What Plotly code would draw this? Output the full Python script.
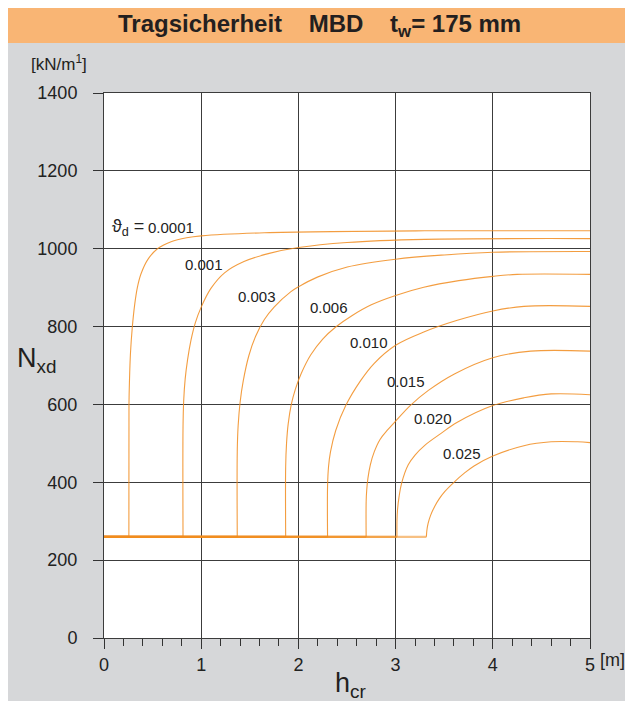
import plotly.graph_objects as go

# ---------------- data ----------------
theta_labels = ["0.0001", "0.001", "0.003", "0.006", "0.010", "0.015", "0.020", "0.025"]
n_base = 260  # common horizontal base level [kN/m1]

x_0001 = [0.256, 0.257, 0.262, 0.272, 0.29, 0.315, 0.343, 0.38, 0.45, 0.55, 0.69, 0.85, 1.0, 1.65, 3.3, 5.0]
y_0001 = [260, 600, 660, 730, 795, 855, 900, 935, 972, 1000, 1018, 1028, 1033, 1041, 1046, 1046]

x_001 = [0.813, 0.813, 0.82, 0.835, 0.86, 0.895, 0.94, 1.0, 1.1, 1.24, 1.44, 1.7, 2.0, 2.5, 3.3, 5.0]
y_001 = [260, 540, 610, 665, 715, 765, 810, 850, 898, 938, 967, 988, 1003, 1016, 1024, 1026]

x_003 = [1.371, 1.371, 1.38, 1.40, 1.433, 1.49, 1.56, 1.65, 1.75, 1.92, 2.0, 2.195, 2.503, 3.0, 3.5, 4.0, 5.0]
y_003 = [260, 480, 545, 605, 661, 725, 775, 818, 850, 889, 902, 927, 953, 973, 984, 991, 993]

x_006 = [1.869, 1.869, 1.878, 1.895, 1.927, 1.97, 2.03, 2.126, 2.25, 2.384, 2.55, 2.75, 3.0, 3.29, 3.65, 4.0, 4.25, 5.0]
y_006 = [260, 440, 500, 550, 600, 640, 680, 727, 768, 799, 828, 856, 880, 901, 918, 929, 934, 934]

x_010 = [2.30, 2.30, 2.31, 2.33, 2.384, 2.487, 2.64, 2.778, 3.0, 3.29, 3.635, 4.0, 4.32, 5.0]
y_010 = [260, 390, 440, 478, 533, 597, 661, 705, 752, 786, 816, 840, 852, 852]

x_015 = [2.697, 2.697, 2.703, 2.715, 2.74, 2.78, 2.84, 2.92, 3.0, 3.15, 3.337, 3.61, 4.0, 4.39, 5.0]
y_015 = [260, 350, 380, 410, 445, 478, 510, 535, 557, 597, 636, 679, 720, 737, 737]

x_020 = [3.014, 3.014, 3.02, 3.035, 3.062, 3.13, 3.2, 3.3, 3.464, 3.635, 4.0, 4.32, 4.6, 5.0]
y_020 = [260, 300, 330, 362, 398, 445, 470, 495, 525, 554, 597, 617, 627, 625]

x_025 = [3.317, 3.321, 3.335, 3.36, 3.402, 3.45, 3.505, 3.6, 3.71, 3.807, 3.995, 4.32, 4.6, 4.87, 5.0]
y_025 = [260, 275, 295, 315, 338, 358, 376, 400, 424, 442, 467, 494, 504, 504, 502]

x_ticks = [0, 1, 2, 3, 4, 5]
y_ticks = [0, 200, 400, 600, 800, 1000, 1200, 1400]

curves_x = [x_0001, x_001, x_003, x_006, x_010, x_015, x_020, x_025]
curves_y = [y_0001, y_001, y_003, y_006, y_010, y_015, y_020, y_025]

# ---------------- styling ----------------
ORANGE = "rgba(241,140,30,0.85)"
BASE_ORANGE = "rgba(241,140,30,0.55)"
GREY_BG = "#d6d7d9"
BAND = "#f9b574"
GRID = "#3c3c3c"
FONT = "Liberation Sans, Arial, sans-serif"
NARROW = "Liberation Sans Narrow, Liberation Sans, Arial, sans-serif"

fig = go.Figure()

# horizontal base segments (from x=0 to each curve's foot)
for cx, cy, name in zip(curves_x, curves_y, theta_labels):
    fig.add_trace(go.Scatter(x=[0, cx[0]], y=[n_base, cy[0]], mode="lines",
                             line=dict(color=BASE_ORANGE, width=2.2), hoverinfo="skip",
                             showlegend=False))
# curves
for cx, cy, name in zip(curves_x, curves_y, theta_labels):
    fig.add_trace(go.Scatter(x=cx, y=cy, mode="lines", name=name,
                             line=dict(color=ORANGE, width=1.1, shape="spline", smoothing=1.0),
                             showlegend=False))

# curve labels
label_pos = [(0.69, 1054), (1.03, 959), (1.57, 878), (2.31, 848),
             (2.73, 758), (3.11, 659), (3.385, 565), (3.68, 475)]
annotations = []
for (lx, ly), t in zip(label_pos, theta_labels):
    annotations.append(dict(x=lx, y=ly, xref="x", yref="y", text=t, showarrow=False,
                            xanchor="center", yanchor="middle",
                            font=dict(family=NARROW, size=15, color="#222")))
annotations.append(dict(x=0.06, y=1055, xref="x", yref="y", xanchor="left", yanchor="middle",
                        text="ϑ<sub>d</sub> =", showarrow=False,
                        font=dict(family=NARROW, size=18, color="#222")))

# pixel -> paper helpers (plot area: x 104..590, y 93..638)
def px(p):
    return (p - 104) / 486.0

def py(p):
    return (638 - p) / 545.0

def txt(x, y, text, size, family=NARROW):
    return dict(x=px(x), y=py(y), xref="paper", yref="paper", showarrow=False,
                xanchor="center", yanchor="middle", text=text,
                font=dict(family=family, size=size, color="#231f20"))

annotations += [
    txt(319, 25, "<b>Tragsicherheit\u00a0\u00a0\u00a0 MBD\u00a0\u00a0\u00a0 t<sub>w</sub>= 175 mm</b>", 24, FONT),
    txt(59, 63, "[kN/m<sup>1</sup>]", 17),
    txt(36, 360, "N<sub>xd</sub>", 27),
    txt(350, 685, "h<sub>cr</sub>", 27),
    txt(612, 660, "[m]", 18),
]

shapes = [
    dict(type="rect", xref="paper", yref="paper", x0=px(0), x1=px(8), y0=py(701), y1=py(0),
         fillcolor="white", line=dict(width=0), layer="below"),
    dict(type="rect", xref="paper", yref="paper", x0=px(0), x1=px(625), y0=py(8), y1=py(0),
         fillcolor="white", line=dict(width=0), layer="below"),
    dict(type="rect", xref="paper", yref="paper", x0=px(8), x1=px(625), y0=py(43), y1=py(8),
         fillcolor=BAND, line=dict(width=0), layer="below"),
]

fig.update_layout(
    width=625, height=701,
    margin=dict(l=104, r=35, t=93, b=63, pad=0),
    paper_bgcolor=GREY_BG, plot_bgcolor="white",
    annotations=annotations, shapes=shapes,
    font=dict(family=NARROW, size=17, color="#222"),
    xaxis=dict(range=[0, 5], tickvals=x_ticks, showgrid=True, gridcolor=GRID, gridwidth=1,
               zeroline=False, showline=True, mirror=True, linecolor=GRID, linewidth=1,
               ticks="outside", ticklen=10, tickcolor="#333", tickwidth=1,
               minor=dict(dtick=0.2, ticks="outside", ticklen=7, tickcolor="#333", showgrid=False),
               ticklabelstandoff=0, tickfont=dict(family=NARROW, size=18, color="#222")),
    yaxis=dict(range=[0, 1400], tickvals=y_ticks, showgrid=True, gridcolor=GRID, gridwidth=1,
               zeroline=False, showline=True, mirror=True, linecolor=GRID, linewidth=1,
               ticks="outside", ticklen=10, tickcolor="#333", tickwidth=1,
               ticklabelstandoff=12, tickfont=dict(family=NARROW, size=18, color="#222")),
)

fig.write_html("out.html")
